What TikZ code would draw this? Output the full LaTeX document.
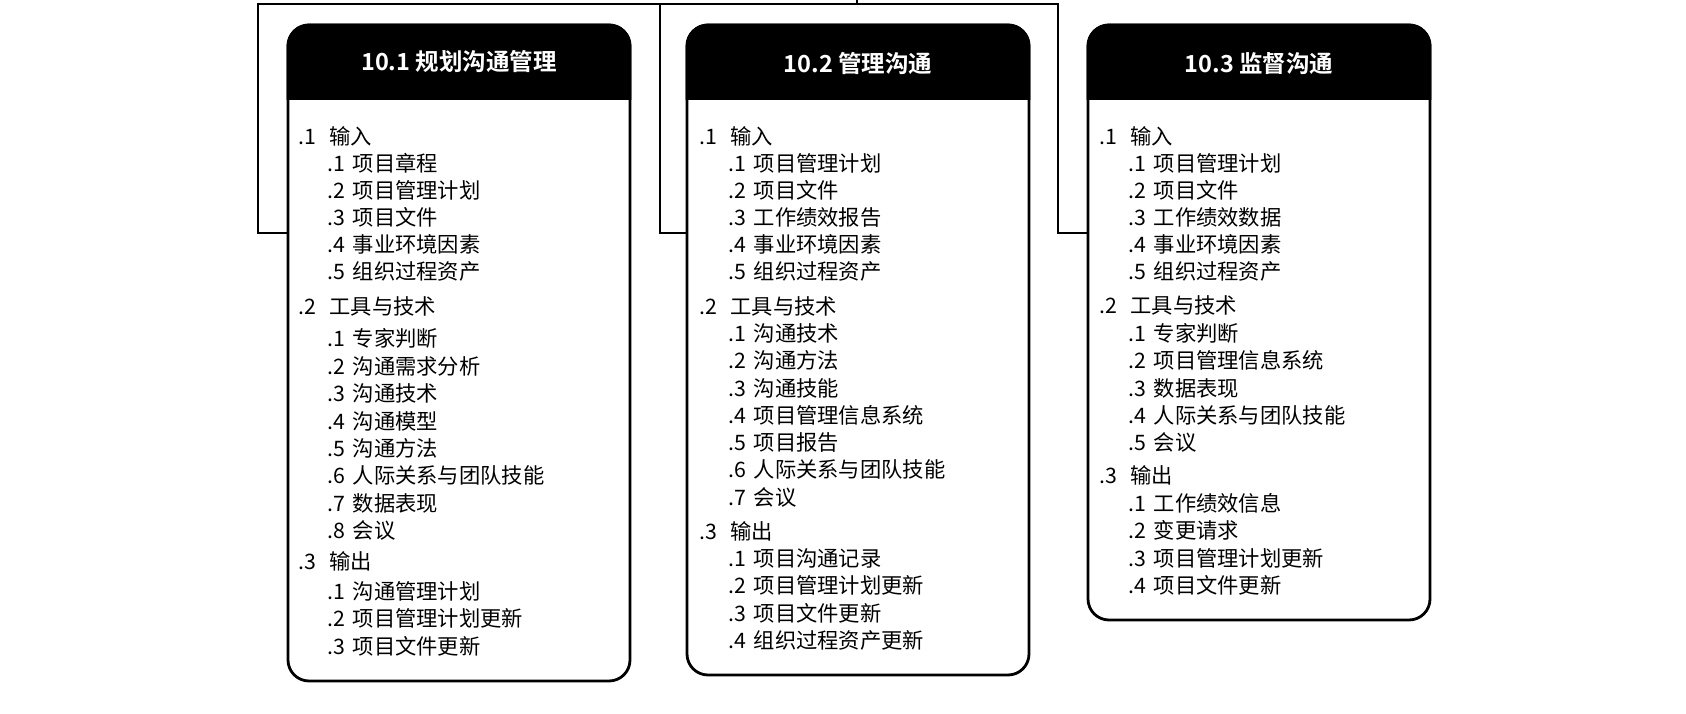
\documentclass[tikz,border=0pt]{standalone}
\usepackage{fontspec}
\setmainfont{Noto Sans CJK SC}
\newfontfamily\cjkbold{Noto Sans CJK SC Bold}
\tikzset{
  x=1pt, y=-1pt,
  procbox/.style={draw=black, line width=2.8pt, rounded corners=21pt, fill=white,
    minimum width=342pt, inner sep=0pt, outer sep=0pt},
  hdr/.style={text=white, font=\cjkbold\fontsize{23.5}{28}\selectfont},
  conn/.style={line width=2.2pt, line cap=rect},
  lvone/.style={anchor=west, inner sep=0pt, font=\fontsize{21.3}{25}\selectfont},
  lvtwo/.style={anchor=west, inner sep=0pt, font=\fontsize{21.3}{25}\selectfont},
}
\newcommand{\ha}[1]{\makebox[31.5pt][l]{#1}}
\newcommand{\hb}[1]{\makebox[25.5pt][l]{#1}}
\begin{document}
\begin{tikzpicture}
\useasboundingbox (0,0) rectangle (1686,714);
% boxes
\node[procbox, minimum height=656pt] (b1) at (459,353) {};
\node[procbox, minimum height=650pt] (b2) at (858,350) {};
\node[procbox, minimum height=595pt] (b3) at (1259,322.5) {};
% headers
\foreach \b in {b1,b2,b3}{
  \fill[rounded corners=21pt] (\b.north west |- 0,100) -- (\b.north west) -- (\b.north east) [sharp corners] -- (\b.north east |- 0,100) -- cycle;
  \draw[line width=2.8pt, rounded corners=21pt] (\b.north west |- 0,100) -- (\b.north west) -- (\b.north east) -- (\b.north east |- 0,100);
}
\node[hdr] (h1) at (459,62) {10.1 规划沟通管理};
\node[hdr] (h2) at (858,64) {10.2 管理沟通};
\node[hdr] (h3) at (1259,64) {10.3 监督沟通};
% connectors
\coordinate (stub) at (857,0);
\coordinate (j) at (857,4);
\coordinate (hl) at (258,4);
\coordinate (hm) at (660,4);
\coordinate (hr) at (1058,4);
\draw[conn] (hl) -- (hr);
\draw[conn] (stub) -- (j);
\draw[conn] (hl) |- (b1.west |- 0,233);
\draw[conn] (hm) |- (b2.west |- 0,233);
\draw[conn] (hr) |- (b3.west |- 0,233);
% box 1 text
\node[lvone] (a1) at (298,136.6) {\ha{.1}输入};
\node[lvtwo] (a11) at (327,163.4) {\hb{.1}项目章程};
\node[lvtwo] (a12) at (327,190.3) {\hb{.2}项目管理计划};
\node[lvtwo] (a13) at (327,217.2) {\hb{.3}项目文件};
\node[lvtwo] (a14) at (327,244.1) {\hb{.4}事业环境因素};
\node[lvtwo] (a15) at (327,271.5) {\hb{.5}组织过程资产};
\node[lvone] (a2) at (298,306.5) {\ha{.2}工具与技术};
\node[lvtwo] (a21) at (327,338.7) {\hb{.1}专家判断};
\node[lvtwo] (a22) at (327,366.2) {\hb{.2}沟通需求分析};
\node[lvtwo] (a23) at (327,393.6) {\hb{.3}沟通技术};
\node[lvtwo] (a24) at (327,421.0) {\hb{.4}沟通模型};
\node[lvtwo] (a25) at (327,448.4) {\hb{.5}沟通方法};
\node[lvtwo] (a26) at (327,475.8) {\hb{.6}人际关系与团队技能};
\node[lvtwo] (a27) at (327,503.2) {\hb{.7}数据表现};
\node[lvtwo] (a28) at (327,530.4) {\hb{.8}会议};
\node[lvone] (a3) at (298,561.3) {\ha{.3}输出};
\node[lvtwo] (a31) at (327,591.4) {\hb{.1}沟通管理计划};
\node[lvtwo] (a32) at (327,618.8) {\hb{.2}项目管理计划更新};
\node[lvtwo] (a33) at (327,646.3) {\hb{.3}项目文件更新};
% box 2 text
\node[lvone] (c1) at (699,136.6) {\ha{.1}输入};
\node[lvtwo] (c11) at (728,163.4) {\hb{.1}项目管理计划};
\node[lvtwo] (c12) at (728,190.3) {\hb{.2}项目文件};
\node[lvtwo] (c13) at (728,217.2) {\hb{.3}工作绩效报告};
\node[lvtwo] (c14) at (728,244.1) {\hb{.4}事业环境因素};
\node[lvtwo] (c15) at (728,271.5) {\hb{.5}组织过程资产};
\node[lvone] (c2) at (699,306.5) {\ha{.2}工具与技术};
\node[lvtwo] (c21) at (728,333.3) {\hb{.1}沟通技术};
\node[lvtwo] (c22) at (728,360.8) {\hb{.2}沟通方法};
\node[lvtwo] (c23) at (728,388.2) {\hb{.3}沟通技能};
\node[lvtwo] (c24) at (728,415.1) {\hb{.4}项目管理信息系统};
\node[lvtwo] (c25) at (728,442.5) {\hb{.5}项目报告};
\node[lvtwo] (c26) at (728,469.9) {\hb{.6}人际关系与团队技能};
\node[lvtwo] (c27) at (728,497.3) {\hb{.7}会议};
\node[lvone] (c3) at (699,531.2) {\ha{.3}输出};
\node[lvtwo] (c31) at (728,558.1) {\hb{.1}项目沟通记录};
\node[lvtwo] (c32) at (728,585.5) {\hb{.2}项目管理计划更新};
\node[lvtwo] (c33) at (728,612.9) {\hb{.3}项目文件更新};
\node[lvtwo] (c34) at (728,640.4) {\hb{.4}组织过程资产更新};
% box 3 text
\node[lvone] (d1) at (1099,136.6) {\ha{.1}输入};
\node[lvtwo] (d11) at (1128,163.4) {\hb{.1}项目管理计划};
\node[lvtwo] (d12) at (1128,190.3) {\hb{.2}项目文件};
\node[lvtwo] (d13) at (1128,217.2) {\hb{.3}工作绩效数据};
\node[lvtwo] (d14) at (1128,244.1) {\hb{.4}事业环境因素};
\node[lvtwo] (d15) at (1128,271.5) {\hb{.5}组织过程资产};
\node[lvone] (d2) at (1099,305.4) {\ha{.2}工具与技术};
\node[lvtwo] (d21) at (1128,333.3) {\hb{.1}专家判断};
\node[lvtwo] (d22) at (1128,360.8) {\hb{.2}项目管理信息系统};
\node[lvtwo] (d23) at (1128,388.2) {\hb{.3}数据表现};
\node[lvtwo] (d24) at (1128,415.1) {\hb{.4}人际关系与团队技能};
\node[lvtwo] (d25) at (1128,442.5) {\hb{.5}会议};
\node[lvone] (d3) at (1099,475.3) {\ha{.3}输出};
\node[lvtwo] (d31) at (1128,503.2) {\hb{.1}工作绩效信息};
\node[lvtwo] (d32) at (1128,530.6) {\hb{.2}变更请求};
\node[lvtwo] (d33) at (1128,558.1) {\hb{.3}项目管理计划更新};
\node[lvtwo] (d34) at (1128,585.5) {\hb{.4}项目文件更新};
\end{tikzpicture}
\end{document}
